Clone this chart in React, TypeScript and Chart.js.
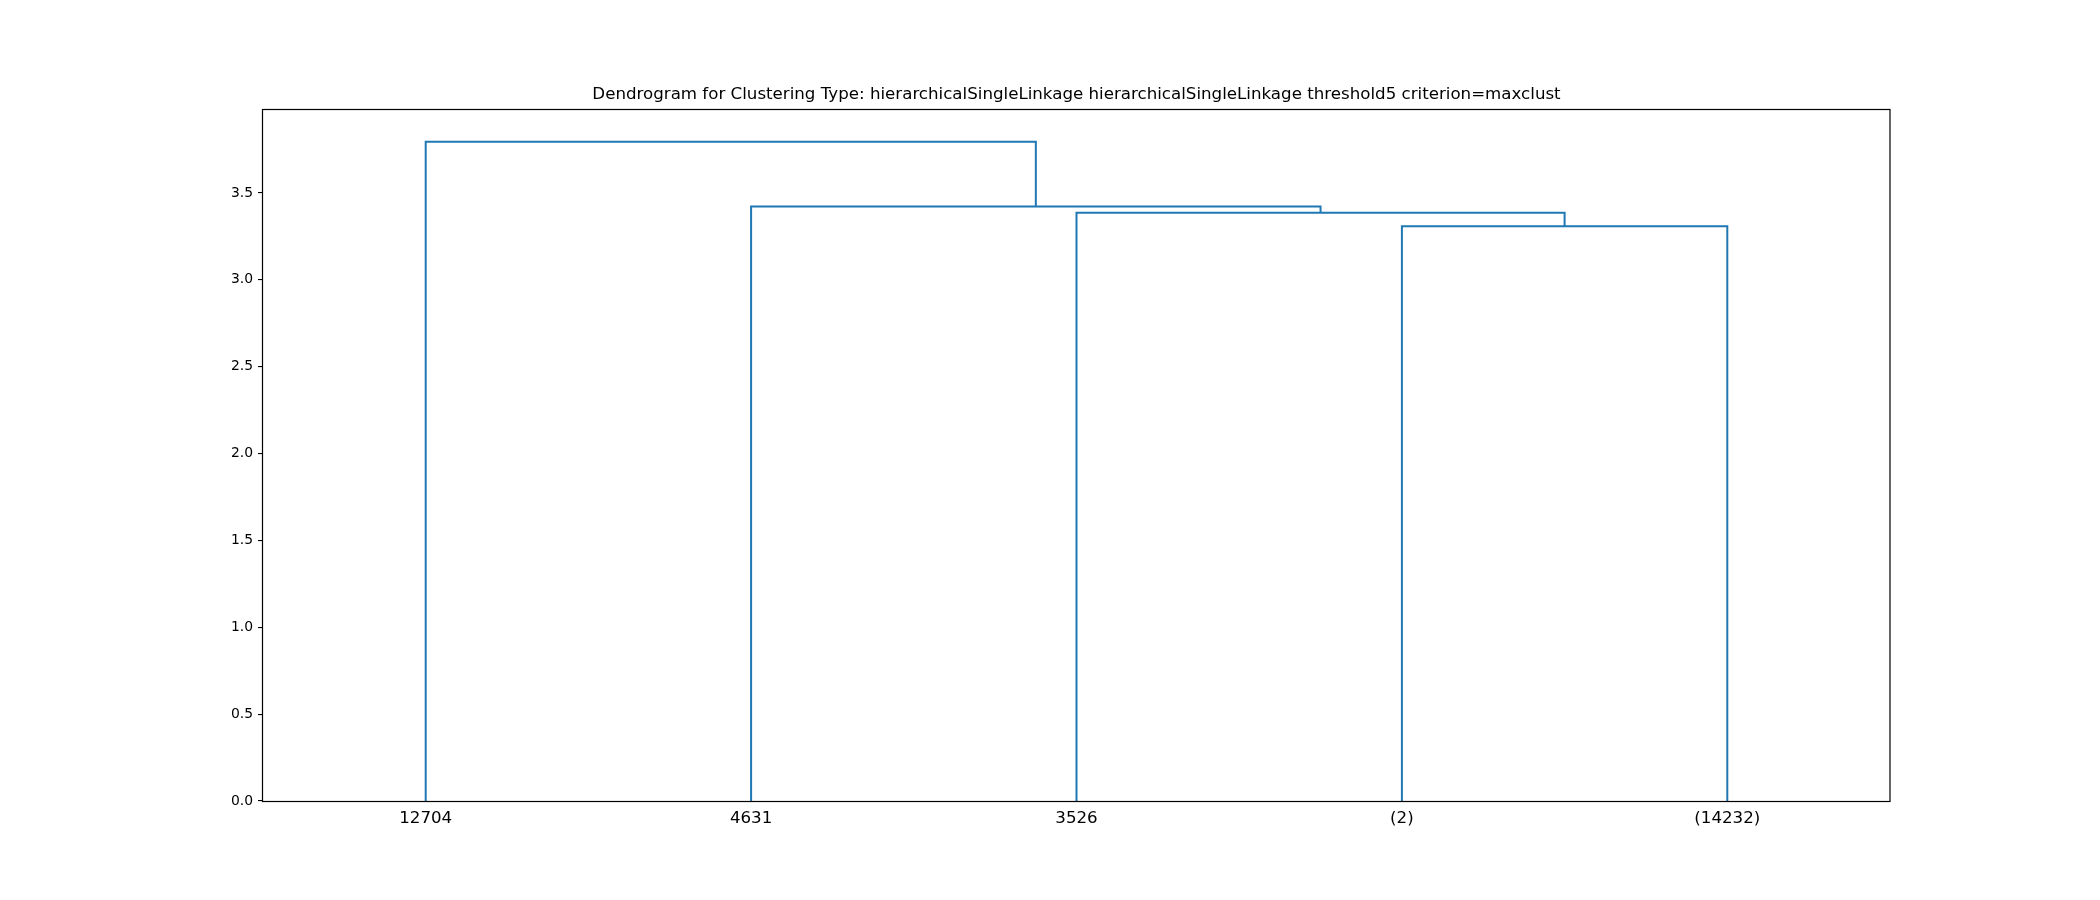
import React, { useEffect, useRef } from 'react';
import { Chart, registerables } from 'chart.js';

Chart.register(...registerables);

const titleText =
  'Dendrogram for Clustering Type: hierarchicalSingleLinkage hierarchicalSingleLinkage threshold5 criterion=maxclust';
// Leaves in dendrogram order
const leafLabels = ['12704', '4631', '3526', '(2)', '(14232)'];
// Linkage rows (scipy style): children 0..4 are leaves, 5.. are earlier merges
const mergeLeft = [3, 2, 1, 0];
const mergeRight = [4, 5, 6, 7];
const mergeHeights = [3.308, 3.387, 3.423, 3.795];
const yTickValues = [0, 0.5, 1, 1.5, 2, 2.5, 3, 3.5];
const linkColor = '#1f77b4';

function buildLinks() {
  const pos: number[] = leafLabels.map((_, i) => i);
  const hts: number[] = leafLabels.map(() => 0);
  return mergeHeights.map((h, k) => {
    const a = mergeLeft[k];
    const b = mergeRight[k];
    const xa = pos[a];
    const xb = pos[b];
    const data = [
      { x: xa, y: hts[a] },
      { x: xa, y: h },
      { x: xb, y: h },
      { x: xb, y: hts[b] },
    ];
    pos.push((xa + xb) / 2);
    hts.push(h);
    return {
      data,
      showLine: true,
      borderColor: linkColor,
      backgroundColor: linkColor,
      borderWidth: 2,
      pointRadius: 0,
      tension: 0,
      fill: false,
      borderJoinStyle: 'miter' as const,
    };
  });
}

const framePlugin = {
  id: 'frame',
  afterDraw(chart: any) {
    const { ctx, chartArea } = chart;
    ctx.save();
    ctx.strokeStyle = '#000';
    ctx.lineWidth = 1.2;
    ctx.strokeRect(
      Math.round(chartArea.left) - 0.5,
      Math.round(chartArea.top) + 0.5,
      Math.round(chartArea.right - chartArea.left) + 0.5,
      Math.round(chartArea.bottom - chartArea.top)
    );
    ctx.restore();
  },
};

export default function App() {
  const canvasRef = useRef<HTMLCanvasElement | null>(null);

  useEffect(() => {
    document.body.style.margin = '0';
    const canvas = canvasRef.current;
    if (!canvas) return;
    const maxH = Math.max(...mergeHeights);
    const chart = new Chart(canvas, {
      type: 'scatter',
      data: { datasets: buildLinks() as any },
      options: {
        responsive: false,
        animation: false,
        devicePixelRatio: 1,
        events: [],
        layout: { padding: { top: 84.4, right: 210, bottom: 0, left: 0 } },
        plugins: {
          legend: { display: false },
          tooltip: { enabled: false },
          title: {
            display: true,
            fullSize: false,
            text: titleText,
            color: '#000',
            font: { family: 'DejaVu Sans', size: 16.67, weight: 'normal' as any, lineHeight: 1.2 },
            padding: { top: 0, bottom: 4.4 },
          },
        },
        scales: {
          x: {
            type: 'linear',
            min: -0.5,
            max: leafLabels.length - 0.5,
            afterBuildTicks: (axis: any) => {
              axis.ticks = leafLabels.map((_, i) => ({ value: i }));
            },
            afterFit: (scale: any) => {
              scale.height = 99;
            },
            grid: { display: false, drawTicks: false },
            border: { display: false },
            ticks: {
              autoSkip: false,
              maxRotation: 0,
              minRotation: 0,
              padding: 8,
              color: '#000',
              font: { family: 'DejaVu Sans', size: 16.67 },
              callback: (v: any) => leafLabels[Math.round(Number(v))] ?? '',
            },
          },
          y: {
            type: 'linear',
            min: 0,
            max: maxH * 1.05,
            afterBuildTicks: (axis: any) => {
              axis.ticks = yTickValues.map((v) => ({ value: v }));
            },
            afterFit: (scale: any) => {
              scale.width = 263;
            },
            grid: {
              display: true,
              drawOnChartArea: false,
              drawTicks: true,
              tickLength: 5,
              color: '#000',
              lineWidth: 1.1,
            },
            border: { display: false },
            ticks: {
              padding: 5,
              color: '#000',
              font: { family: 'DejaVu Sans', size: 13.9 },
              callback: (v: any) => Number(v).toFixed(1),
            },
          },
        },
      },
      plugins: [framePlugin],
    });
    return () => chart.destroy();
  }, []);

  return (
    <canvas
      ref={canvasRef}
      width={2100}
      height={900}
      style={{ display: 'block', width: 2100, height: 900 }}
    />
  );
}
